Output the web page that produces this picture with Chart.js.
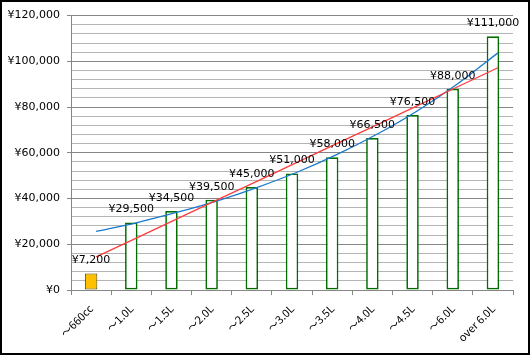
<!DOCTYPE html>
<html>
<head>
<meta charset="utf-8">
<script src="https://cdn.jsdelivr.net/npm/chart.js@4.4.1/dist/chart.umd.min.js"></script>
<style>
  html, body { margin: 0; padding: 0; background: #fff; }
  #wrap { width: 530px; height: 355px; box-sizing: border-box; border: 2px solid #000; background: #fff; }
  #wrap canvas { display: block; }
</style>
</head>
<body>
<div id="wrap"><canvas id="c" width="526" height="351"></canvas></div>
<script>
// ---- data ----
const categories = ['～660cc', '～1.0L', '～1.5L', '～2.0L', '～2.5L', '～3.0L', '～3.5L', '～4.0L', '～4.5L', '～6.0L', 'over 6.0L'];
const taxValues = [7200, 29500, 34500, 39500, 45000, 51000, 58000, 66500, 76500, 88000, 111000];
// trend lines
const linearTrend = [14500, 22700, 31000, 39300, 47500, 55800, 64100, 72300, 80600, 88900, 97200];
const expTrend = [25600, 29400, 33900, 38900, 44800, 51500, 59300, 68200, 78400, 90200, 103700];
const yTickMin = 0, yTickMax = 120000, yMajorStep = 20000, yMinorStep = 4000;

const FONT = "'DejaVu Sans', sans-serif";
const XFONT = "'Noto Sans CJK JP', 'DejaVu Sans', sans-serif";
const yen = v => '¥' + Number(v).toLocaleString('en-US');

const barFill = taxValues.map((v, i) => i === 0 ? '#FFC000' : '#FFFFFF');
const barBorder = taxValues.map((v, i) => i === 0 ? '#4d4000' : '#006e00');
const barBorderW = taxValues.map((v, i) => i === 0 ? 1 : 1.7);

const labelPlugin = {
  id: 'barLabels',
  beforeDatasetDraw(chart, args) {
    if (chart.data.datasets[args.index].type === 'line') {
      chart.ctx.save();
      chart.ctx.translate(5, 0);
    }
  },
  afterDatasetDraw(chart, args) {
    if (chart.data.datasets[args.index].type === 'line') chart.ctx.restore();
  },
  afterDatasetsDraw(chart) {
    const ctx = chart.ctx;
    const idx = chart.data.datasets.findIndex(d => d.type === 'bar');
    const meta = chart.getDatasetMeta(idx);
    ctx.save();
    ctx.font = '11px ' + FONT;
    ctx.fillStyle = '#000';
    ctx.textAlign = 'center';
    ctx.textBaseline = 'middle';
    meta.data.forEach((el, i) => {
      ctx.fillText(yen(taxValues[i]), el.x, el.y - 13);
    });
    ctx.restore();
  }
};

new Chart(document.getElementById('c'), {
  data: {
    labels: categories,
    datasets: [
      {
        type: 'line', label: 'linear', data: linearTrend,
        borderColor: '#ff3c3c', borderWidth: 1.3, pointRadius: 0, tension: 0, order: 0
      },
      {
        type: 'line', label: 'exp', data: expTrend,
        borderColor: '#1a78cc', borderWidth: 1.3, pointRadius: 0, tension: 0.4,
        cubicInterpolationMode: 'monotone', order: 0
      },
      {
        type: 'bar', label: 'tax', data: taxValues,
        backgroundColor: barFill, borderColor: barBorder, borderWidth: barBorderW,
        borderSkipped: false,
        barPercentage: 0.31, categoryPercentage: 1, order: 1
      }
    ]
  },
  options: {
    responsive: false,
    animation: false,
    events: [],
    layout: { padding: { top: 12, right: 15, left: 0, bottom: 0 } },
    plugins: { legend: { display: false }, tooltip: { enabled: false } },
    scales: {
      x: {
        type: 'category',
        offset: true,
        afterFit(s) { s.height = 63; },
        grid: {
          offset: true, drawOnChartArea: false, drawTicks: true,
          tickLength: 5, tickColor: '#868686', color: '#868686'
        },
        border: { color: '#868686', width: 1 },
        ticks: {
          autoSkip: false, maxRotation: 45, minRotation: 45, padding: 7,
          color: '#000', font: { family: XFONT, size: 11 }
        }
      },
      y: {
        min: yTickMin, max: yTickMax,
        afterFit(s) { s.width = 69; },
        afterBuildTicks(s) {
          const t = [];
          for (let v = yTickMin; v <= yTickMax; v += yMinorStep) t.push({ value: v });
          s.ticks = t;
        },
        grid: {
          color: c => (c.tick && c.tick.value % yMajorStep === 0) ? '#868686' : '#b4b4b4',
          tickColor: c => (c.tick && c.tick.value % yMajorStep === 0) ? '#868686' : 'rgba(0,0,0,0)',
          tickLength: 4, lineWidth: 1
        },
        border: { color: '#868686', width: 1 },
        ticks: {
          autoSkip: false, padding: 7, color: '#000',
          font: { family: FONT, size: 11 },
          callback: v => (v % yMajorStep === 0) ? yen(v) : ''
        }
      }
    }
  },
  plugins: [labelPlugin]
});
</script>
</body>
</html>
